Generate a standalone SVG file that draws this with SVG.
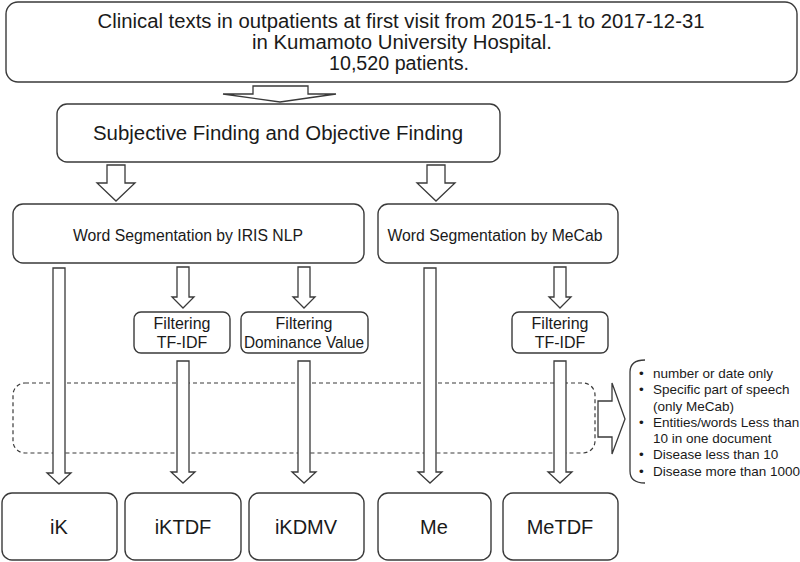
<svg xmlns="http://www.w3.org/2000/svg" width="800" height="562" viewBox="0 0 800 562">
<style>
.box{fill:#fff;stroke:#3a3a3a;stroke-width:1.4}
.arr{fill:#fff;stroke:#3a3a3a;stroke-width:1.3;stroke-linejoin:miter}
.t{font-family:"Liberation Sans",Arial,sans-serif;fill:#1a1a1a;text-anchor:middle}
.b{font-family:"Liberation Sans",Arial,sans-serif;fill:#1a1a1a;font-size:13.5px}
</style>
<rect width="800" height="562" fill="#fff"/>
<g id="filter-zone">
<rect x="13" y="383" width="582" height="70" rx="12" fill="none" stroke="#3a3a3a" stroke-width="1.2" stroke-dasharray="4,3"/>
</g>
<g id="source">
<rect class="box" x="6" y="2" width="791" height="80" rx="12"/>
<text class="t" x="401" y="28" font-size="20" textLength="607" lengthAdjust="spacingAndGlyphs">Clinical texts in outpatients at first visit from 2015-1-1 to 2017-12-31</text>
<text class="t" x="402" y="49" font-size="20" textLength="300" lengthAdjust="spacingAndGlyphs">in Kumamoto University Hospital.</text>
<text class="t" x="399" y="70" font-size="20" textLength="140" lengthAdjust="spacingAndGlyphs">10,520 patients.</text>
</g>
<g id="sofo">
<rect class="box" x="57" y="104" width="443" height="58" rx="10"/>
<text class="t" x="278" y="140" font-size="20" textLength="370" lengthAdjust="spacingAndGlyphs">Subjective Finding and Objective Finding</text>
</g>
<g id="ws-iris">
<rect class="box" x="13" y="204" width="351" height="59" rx="10"/>
<text class="t" x="188" y="241" font-size="16" textLength="230" lengthAdjust="spacingAndGlyphs">Word Segmentation  by IRIS NLP</text>
</g>
<g id="ws-mecab">
<rect class="box" x="378" y="204" width="240" height="59" rx="10"/>
<text class="t" x="495" y="241" font-size="16" textLength="215" lengthAdjust="spacingAndGlyphs">Word Segmentation  by MeCab</text>
</g>
<g id="filter-tfidf-iris">
<rect class="box" x="134" y="312" width="96" height="41" rx="7"/>
<text class="t" x="182" y="329" font-size="16">Filtering</text>
<text class="t" x="182" y="348" font-size="16">TF-IDF</text>
</g>
<g id="filter-dv">
<rect class="box" x="241" y="312" width="127" height="41" rx="7"/>
<text class="t" x="304" y="329" font-size="16">Filtering</text>
<text class="t" x="304" y="348" font-size="16" textLength="120" lengthAdjust="spacingAndGlyphs">Dominance Value</text>
</g>
<g id="filter-tfidf-mecab">
<rect class="box" x="512" y="312" width="96" height="41" rx="7"/>
<text class="t" x="560" y="329" font-size="16">Filtering</text>
<text class="t" x="560" y="348" font-size="16">TF-IDF</text>
</g>
<g id="iK">
<rect class="box" x="2" y="493" width="115" height="67" rx="10"/>
<text class="t" x="59" y="534" font-size="20">iK</text>
</g>
<g id="iKTDF">
<rect class="box" x="125" y="493" width="116" height="67" rx="10"/>
<text class="t" x="183" y="534" font-size="20">iKTDF</text>
</g>
<g id="iKDMV">
<rect class="box" x="249" y="493" width="115" height="67" rx="10"/>
<text class="t" x="306" y="534" font-size="20">iKDMV</text>
</g>
<g id="Me">
<rect class="box" x="378" y="493" width="113" height="67" rx="10"/>
<text class="t" x="434" y="534" font-size="20">Me</text>
</g>
<g id="MeTDF">
<rect class="box" x="503" y="493" width="115" height="67" rx="10"/>
<text class="t" x="560" y="534" font-size="20">MeTDF</text>
</g>
<g id="criteria">
<path d="M645 360 Q630 360 630 372 L630 471 Q630 483 645 483" fill="none" stroke="#3a3a3a" stroke-width="1.3"/>
<text class="b" x="639" y="378">•</text><text class="b" x="653" y="378">number or date only</text>
<text class="b" x="639" y="394">•</text><text class="b" x="653" y="394">Specific part of speech</text>
<text class="b" x="653" y="411">(only MeCab)</text>
<text class="b" x="639" y="427">•</text><text class="b" x="653" y="427">Entities/words Less than</text>
<text class="b" x="653" y="443">10 in one document</text>
<text class="b" x="639" y="459">•</text><text class="b" x="653" y="459">Disease less than 10</text>
<text class="b" x="639" y="476">•</text><text class="b" x="653" y="476">Disease more than 1000</text>
</g>
<g id="connectors">
<polygon class="arr" points="253,86 308,86 308,94 336,94 280,102 223,94 253,94"/>
<polygon class="arr" points="107,165 125,165 125,183 135,183 116,201 97,183 107,183"/>
<polygon class="arr" points="427,165 445,165 445,183 455,183 436,201 417,183 427,183"/>
<polygon class="arr" points="177,267 189,267 189,297 194,297 183,308 172,297 177,297"/>
<polygon class="arr" points="298,267 310,267 310,297 315,297 304,308 293,297 298,297"/>
<polygon class="arr" points="554,267 566,267 566,297 571,297 560,308 549,297 554,297"/>
<polygon class="arr" points="53,268 65,268 65,473 71,473 59,484 47,473 53,473"/>
<polygon class="arr" points="177,361 189,361 189,472 195,472 183,483 171,472 177,472"/>
<polygon class="arr" points="298,361 310,361 310,472 316,472 304,483 292,472 298,472"/>
<polygon class="arr" points="424,268 436,268 436,472 442,472 430,483 418,472 424,472"/>
<polygon class="arr" points="554,361 566,361 566,472 572,472 560,483 548,472 554,472"/>
<polygon class="arr" points="598,401 612,401 612,383 625,419 612,454 612,437 598,437"/>
</g>
</svg>
